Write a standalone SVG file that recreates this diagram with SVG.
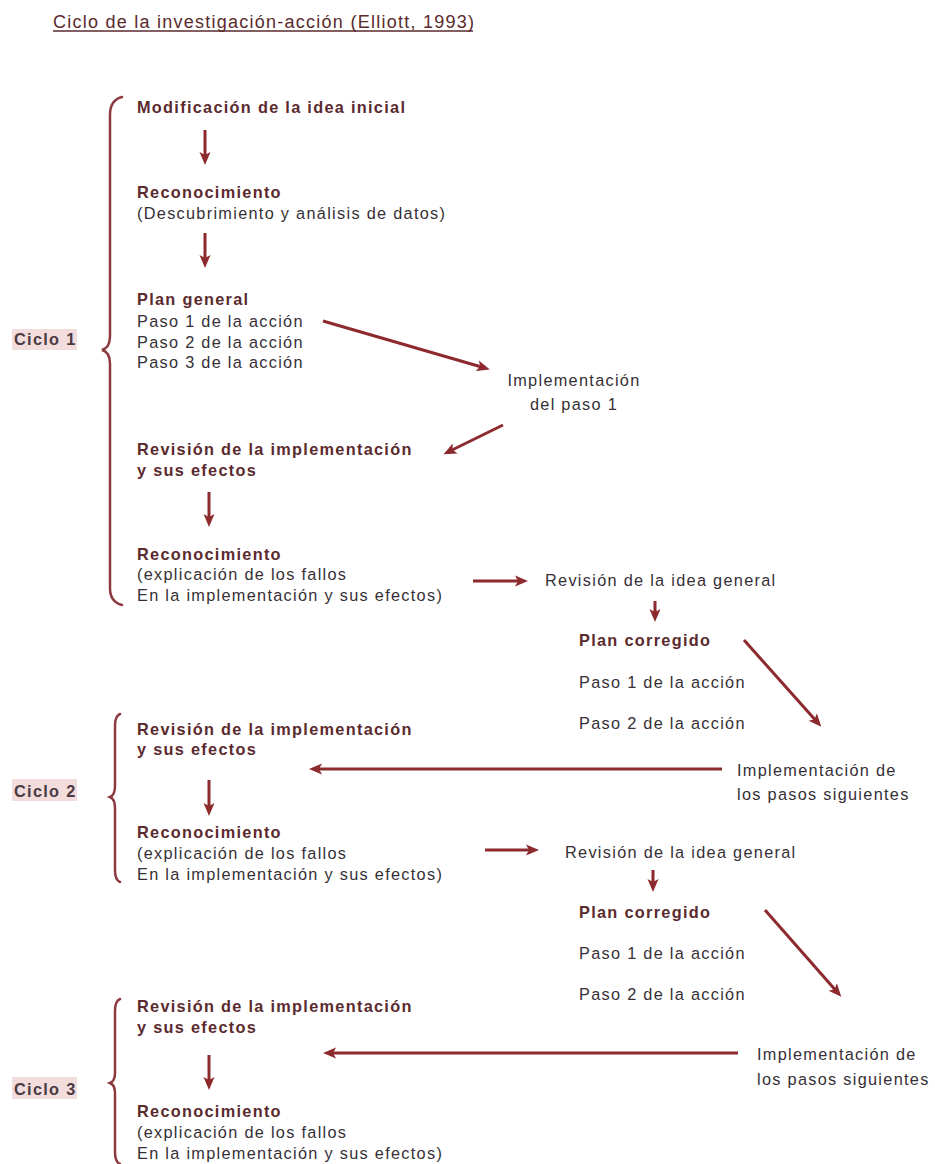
<svg xmlns="http://www.w3.org/2000/svg" width="935" height="1164" viewBox="0 0 935 1164">
<defs>
<style>
text{font-family:"Liberation Sans",Arial,sans-serif;font-size:16.3px;letter-spacing:1.3px}
.b{font-weight:bold;fill:#5b2a2e}
.n{fill:#363036}
.t{font-size:18px;letter-spacing:1.25px;fill:#5a2a2c}
.c{font-weight:bold;fill:#4a3a44}
.lbl{fill:#f2dcdc}
.ar{stroke:#8c2a2e;stroke-width:3;fill:none;marker-end:url(#ah)}
.br{stroke:#8c3a40;stroke-width:2.5;fill:none;stroke-linecap:round}
</style>
<marker id="ah" markerUnits="userSpaceOnUse" markerWidth="13" markerHeight="13" viewBox="0 0 13 13" refX="8" refY="6.5" orient="auto">
<path d="M0,1 L13,6.5 L0,12 L3,6.5 z" fill="#8c2a2e"/>
</marker>
</defs>
<rect width="935" height="1164" fill="#ffffff"/>

<g id="title">
<text class="t" x="53" y="28">Ciclo de la investigación-acción (Elliott, 1993)</text>
<line x1="53" y1="31" x2="473" y2="31" stroke="#5a2a2c" stroke-width="1.5"/>
</g>

<g id="ciclo1">
<rect class="lbl" x="12" y="329" width="65" height="21"/>
<text class="c" x="14" y="345">Ciclo 1</text>
<path class="br" d="M122,97 Q110,100 110,115 L110,336 Q110,348 102,350 Q110,352 110,364 L110,588 Q110,602 122,605"/>
</g>
<g id="ciclo2">
<rect class="lbl" x="12" y="779" width="65" height="22"/>
<text class="c" x="14" y="797">Ciclo 2</text>
<path class="br" d="M120,714 Q115,716 115,726 L115,786 Q115,795 110,797 Q115,799 115,808 L115,870 Q115,880 120,882"/>
</g>
<g id="ciclo3">
<rect class="lbl" x="12" y="1077" width="65" height="22"/>
<text class="c" x="14" y="1095">Ciclo 3</text>
<path class="br" d="M120,999 Q115,1001 115,1011 L115,1073 Q115,1081 110,1083 Q115,1085 115,1093 L115,1152 Q115,1162 120,1164"/>
</g>

<g id="n-modificacion"><text class="b" x="137" y="113">Modificación de la idea inicial</text></g>
<g id="n-reconocimiento1"><text class="b" x="137" y="198">Reconocimiento</text><text class="n" x="137" y="219">(Descubrimiento y análisis de datos)</text></g>
<g id="n-plan-general"><text class="b" x="137" y="305">Plan general</text><text class="n" x="137" y="327">Paso 1 de la acción</text><text class="n" x="137" y="348">Paso 2 de la acción</text><text class="n" x="137" y="368">Paso 3 de la acción</text></g>
<g id="n-impl-paso1"><text class="n" x="574" y="386" text-anchor="middle">Implementación</text><text class="n" x="574" y="410" text-anchor="middle">del paso 1</text></g>
<g id="n-revision1"><text class="b" x="137" y="455">Revisión de la implementación</text><text class="b" x="137" y="476">y sus efectos</text></g>
<g id="n-reconocimiento2"><text class="b" x="137" y="560">Reconocimiento</text><text class="n" x="137" y="580">(explicación de los fallos</text><text class="n" x="137" y="601">En la implementación y sus efectos)</text></g>
<g id="n-revision-idea1"><text class="n" x="545" y="586">Revisión de la idea general</text></g>
<g id="n-plan-corregido1"><text class="b" x="579" y="646">Plan corregido</text><text class="n" x="579" y="688">Paso 1 de la acción</text><text class="n" x="579" y="729">Paso 2 de la acción</text></g>
<g id="n-impl-siguientes1"><text class="n" x="737" y="776">Implementación de</text><text class="n" x="737" y="800">los pasos siguientes</text></g>

<g id="n-revision2"><text class="b" x="137" y="735">Revisión de la implementación</text><text class="b" x="137" y="755">y sus efectos</text></g>
<g id="n-reconocimiento3"><text class="b" x="137" y="838">Reconocimiento</text><text class="n" x="137" y="859">(explicación de los fallos</text><text class="n" x="137" y="880">En la implementación y sus efectos)</text></g>
<g id="n-revision-idea2"><text class="n" x="565" y="858">Revisión de la idea general</text></g>
<g id="n-plan-corregido2"><text class="b" x="579" y="918">Plan corregido</text><text class="n" x="579" y="959">Paso 1 de la acción</text><text class="n" x="579" y="1000">Paso 2 de la acción</text></g>
<g id="n-impl-siguientes2"><text class="n" x="757" y="1060">Implementación de</text><text class="n" x="757" y="1085">los pasos siguientes</text></g>

<g id="n-revision3"><text class="b" x="137" y="1012">Revisión de la implementación</text><text class="b" x="137" y="1033">y sus efectos</text></g>
<g id="n-reconocimiento4"><text class="b" x="137" y="1117">Reconocimiento</text><text class="n" x="137" y="1138">(explicación de los fallos</text><text class="n" x="137" y="1159">En la implementación y sus efectos)</text></g>

<g id="connectors">
<line class="ar" x1="205" y1="130" x2="205" y2="160"/>
<line class="ar" x1="205" y1="233" x2="205" y2="263"/>
<line class="ar" x1="323" y1="321" x2="485" y2="368"/>
<line class="ar" x1="503" y1="425" x2="448" y2="452"/>
<line class="ar" x1="209" y1="492" x2="209" y2="522"/>
<line class="ar" x1="473" y1="581" x2="523" y2="581"/>
<line class="ar" x1="655" y1="601" x2="655" y2="617"/>
<line class="ar" x1="744" y1="640" x2="818" y2="723"/>
<line class="ar" x1="722" y1="769" x2="314" y2="769"/>
<line class="ar" x1="209" y1="780" x2="209" y2="811"/>
<line class="ar" x1="485" y1="850" x2="534" y2="850"/>
<line class="ar" x1="653" y1="870" x2="653" y2="887"/>
<line class="ar" x1="765" y1="910" x2="838" y2="993"/>
<line class="ar" x1="738" y1="1053" x2="328" y2="1053"/>
<line class="ar" x1="209" y1="1055" x2="209" y2="1085"/>
</g>
</svg>
